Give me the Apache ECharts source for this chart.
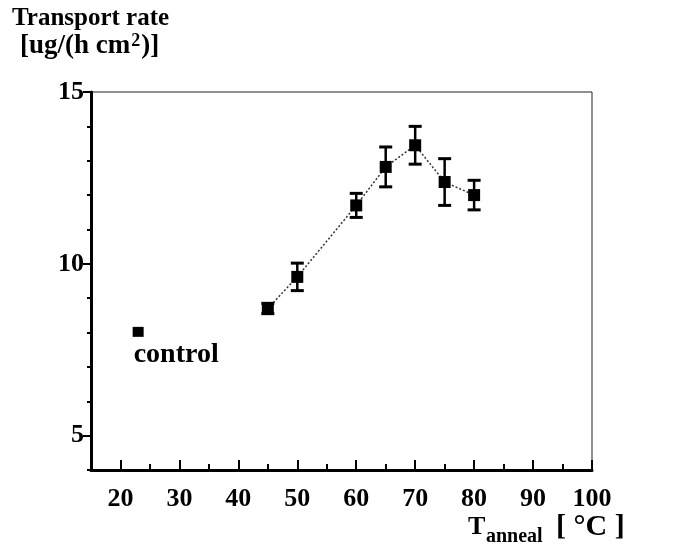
<!DOCTYPE html>
<html>
<head>
<meta charset="utf-8">
<script src="https://cdn.jsdelivr.net/npm/echarts@6/dist/echarts.min.js"></script>
<style>
  html, body { margin: 0; padding: 0; background: #fff; }
  #chart { width: 683px; height: 545px; }
</style>
</head>
<body>
<div id="chart"></div>
<script>
// Annealing temperature series (°C) with transport rate and its spread
var temperatures = [45, 50, 60, 65, 70, 75, 80];
var rates = [8.7, 9.62, 11.7, 12.82, 13.45, 12.38, 12.0];
var errors = [0.15, 0.4, 0.35, 0.58, 0.55, 0.68, 0.43];

// Untreated reference sample
var controlPoint = [23, 8.02];

// Axis ticks
var xMajorTicks = [20, 30, 40, 50, 60, 70, 80, 90, 100];
var xMinorTicks = [25, 35, 45, 55, 65, 75, 85, 95];
var yMajorTicks = [5, 10, 15];
var yMinorTicks = [4, 6, 7, 8, 9, 11, 12, 13, 14];

var FONT = 'Liberation Serif';

var seriesPoints = temperatures.map(function (t, i) { return [t, rates[i]]; });
var errorData = temperatures.map(function (t, i) { return [t, rates[i] - errors[i], rates[i] + errors[i]]; });

var chart = echarts.init(document.getElementById('chart'), null, { renderer: 'canvas' });

chart.setOption({
  backgroundColor: '#fff',
  animation: false,
  grid: {
    left: 91, right: 91, top: 92, bottom: 75,
    show: true, borderColor: '#222', borderWidth: 1, backgroundColor: 'transparent'
  },
  xAxis: [
    {
      type: 'value', min: 15, max: 100,
      axisLine: { show: true, onZero: false, lineStyle: { color: '#000', width: 3 } },
      axisTick: { show: true, inside: true, length: 10, customValues: xMajorTicks, lineStyle: { color: '#000', width: 2 } },
      axisLabel: { customValues: xMajorTicks, margin: 16, color: '#000', fontFamily: FONT, fontSize: 26, fontWeight: 'bold' },
      splitLine: { show: false }
    },
    {
      type: 'value', min: 15, max: 100, position: 'bottom',
      axisLine: { show: false },
      axisTick: { show: true, inside: true, length: 6, customValues: xMinorTicks, lineStyle: { color: '#000', width: 2 } },
      axisLabel: { show: false },
      splitLine: { show: false }
    }
  ],
  yAxis: [
    {
      type: 'value', min: 4, max: 15,
      axisLine: { show: true, onZero: false, lineStyle: { color: '#000', width: 3 } },
      axisTick: { show: true, inside: false, length: 8, customValues: yMajorTicks, lineStyle: { color: '#000', width: 2 } },
      axisLabel: { customValues: yMajorTicks, margin: 7, color: '#000', fontFamily: FONT, fontSize: 26, fontWeight: 'bold' },
      splitLine: { show: false }
    },
    {
      type: 'value', min: 4, max: 15, position: 'left',
      axisLine: { show: false },
      axisTick: { show: true, inside: false, length: 4, customValues: yMinorTicks, lineStyle: { color: '#000', width: 2 } },
      axisLabel: { show: false },
      splitLine: { show: false }
    }
  ],
  series: [
    {
      type: 'line',
      data: seriesPoints,
      symbol: 'none',
      lineStyle: { color: '#333', width: 1.5, type: [2, 2] },
      z: 2
    },
    {
      type: 'custom',
      data: errorData,
      renderItem: function (params, api) {
        var x = api.value(0);
        var lo = api.coord([x, api.value(1)]);
        var hi = api.coord([x, api.value(2)]);
        var cap = 6.5;
        return {
          type: 'group',
          children: [
            { type: 'line', shape: { x1: lo[0], y1: lo[1], x2: hi[0], y2: hi[1] }, style: { stroke: '#000', lineWidth: 2.5 } },
            { type: 'line', shape: { x1: lo[0] - cap, y1: lo[1], x2: lo[0] + cap, y2: lo[1] }, style: { stroke: '#000', lineWidth: 3 } },
            { type: 'line', shape: { x1: hi[0] - cap, y1: hi[1], x2: hi[0] + cap, y2: hi[1] }, style: { stroke: '#000', lineWidth: 3 } }
          ]
        };
      },
      z: 3
    },
    {
      type: 'scatter',
      data: seriesPoints,
      symbol: 'rect',
      symbolSize: [12, 12],
      itemStyle: { color: '#000', opacity: 1 },
      z: 4
    },
    {
      type: 'scatter',
      data: [controlPoint],
      symbol: 'rect',
      symbolSize: [11, 10],
      itemStyle: { color: '#000', opacity: 1 },
      label: {
        show: true, position: 'bottom', distance: 4,
        formatter: 'control', offset: [38, 0],
        color: '#000', opacity: 1, textBorderWidth: 0,
        fontFamily: FONT, fontSize: 28, fontWeight: 'bold'
      },
      z: 4
    }
  ],
  graphic: [
    {
      type: 'text', left: 12, top: 6,
      style: { text: 'Transport rate', fill: '#000', font: 'bold 25px "Liberation Serif"' }
    },
    {
      type: 'text', left: 20, top: 32,
      style: {
        text: '{b|[ug/(h cm}{s|2}{b|)]}',
        rich: {
          b: { fontFamily: FONT, fontSize: 27, fontWeight: 'bold', color: '#000' },
          s: { fontFamily: FONT, fontSize: 18, fontWeight: 'bold', color: '#000', verticalAlign: 'top', padding: [0, 1, 10, 1] }
        }
      }
    },
    {
      type: 'text', left: 468, top: 514,
      style: { text: 'T', fill: '#000', font: 'bold 26px "Liberation Serif"' }
    },
    {
      type: 'text', left: 486, top: 527,
      style: { text: 'anneal', fill: '#000', font: 'bold 20px "Liberation Serif"' }
    },
    {
      type: 'text', left: 556, top: 512,
      style: { text: '[ °C ]', fill: '#000', font: 'bold 30px "Liberation Serif"' }
    }
  ]
});
</script>
</body>
</html>
